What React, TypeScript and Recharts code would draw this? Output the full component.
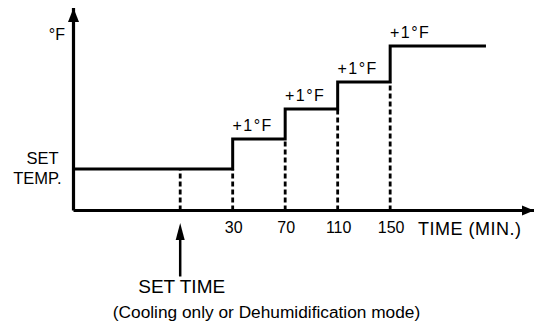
import React from 'react';
import { LineChart, Line, XAxis, YAxis, ReferenceLine, ReferenceDot } from 'recharts';

// time in minutes (set time sits one step before 30)
const minutes = [-91, 30, 70, 110, 150, 223];
// rise above set temperature, in "°F" steps
const tempRise = [0, 1, 2, 2.9, 4.1, 4.1];
const setTime = -10;
const tickValues = [-10, 30, 70, 110, 150];
const tickLabels = ['SET TIME', '30', '70', '110', '150'];
const stepLabel = '+1°F';
const xDomain = [-91.3, 259.6];
const yDomain = [-1.383, 5.367];

const data = minutes.map((m, i) => ({ time: m, rise: tempRise[i] }));

const FONT = '"Liberation Sans", Arial, Helvetica, sans-serif';

const TimeTick = (props: any) => {
  const { x, y, payload } = props;
  const i = tickValues.indexOf(payload.value);
  if (payload.value === setTime) {
    return (
      <g>
        <line x1={x} x2={x} y1={y + 66} y2={y + 26} stroke="#000" strokeWidth={2.5} />
        <polygon points={`${x},${y + 12.5} ${x - 4.5},${y + 29.5} ${x + 4.5},${y + 29.5}`} fill="#000" />
        <text x={x + 1.5} y={y + 82.5} textAnchor="middle" fontSize={19} fontFamily={FONT} fill="#000">
          {tickLabels[i]}
        </text>
      </g>
    );
  }
  return (
    <text x={x + 1} y={y + 22.5} textAnchor="middle" fontSize={16} fontFamily={FONT} fill="#000">
      {tickLabels[i]}
    </text>
  );
};

const TempTick = (props: any) => {
  const { x, y } = props;
  return (
    <g fontFamily={FONT} fontSize={16.5} fill="#000">
      <text x={x - 15} y={y - 5} textAnchor="end">SET</text>
      <text x={x - 12} y={y + 15} textAnchor="end">TEMP.</text>
    </g>
  );
};

const xArrow = (p: any) => (
  <polygon points={`${p.cx},${p.cy} ${p.cx - 12},${p.cy - 5} ${p.cx - 12},${p.cy + 5}`} fill="#000" />
);
const yArrow = (p: any) => (
  <polygon points={`${p.cx},${p.cy} ${p.cx - 5.5},${p.cy + 14} ${p.cx + 5.5},${p.cy + 14}`} fill="#000" />
);
const riseLabel = (p: any) => (
  <text x={p.cx + 20} y={p.cy - 8} textAnchor="middle" fontSize={16} letterSpacing={1.5} fontFamily={FONT} fill="#000">
    {stepLabel}
  </text>
);

// dashed guides: from the axis up to the level before each rise
const guides = [{ x: setTime, top: tempRise[0] }].concat(
  minutes.slice(1, 5).map((m, i) => ({ x: m, top: tempRise[i] }))
);

export default function App() {
  return (
    <div style={{ position: 'absolute', left: 0, top: 0, background: '#fff' }}>
      <LineChart
        width={535}
        height={330}
        data={data}
        margin={{ top: 8, right: 1, left: 72.5, bottom: 89.5 }}
      >
        <XAxis
          dataKey="time"
          type="number"
          domain={xDomain}
          ticks={tickValues}
          interval={0}
          tickLine={false}
          tickSize={0}
          tickMargin={0}
          height={30}
          axisLine={{ stroke: '#000', strokeWidth: 3.2 }}
          tick={<TimeTick />}
        />
        <YAxis
          type="number"
          domain={yDomain}
          ticks={[0]}
          interval={0}
          width={1}
          tickLine={false}
          tickSize={0}
          tickMargin={0}
          axisLine={{ stroke: '#000', strokeWidth: 3.2 }}
          tick={<TempTick />}
        />
        {guides.map((g) => (
          <ReferenceLine
            key={g.x}
            segment={[{ x: g.x, y: yDomain[0] }, { x: g.x, y: g.top }]}
            stroke="#000"
            strokeWidth={2.8}
            strokeDasharray="5 3"
          />
        ))}
        <Line
          type="stepAfter"
          dataKey="rise"
          stroke="#000"
          strokeWidth={3}
          dot={false}
          isAnimationActive={false}
        />
        {minutes.slice(1, 5).map((m, i) => (
          <ReferenceDot key={m} x={m} y={tempRise[i + 1]} ifOverflow="visible" shape={riseLabel} />
        ))}
        <ReferenceDot x={xDomain[1]} y={yDomain[0]} ifOverflow="visible" shape={xArrow} />
        <ReferenceDot x={xDomain[0]} y={yDomain[1]} ifOverflow="visible" shape={yArrow} />
        <text x={65} y={40} textAnchor="end" fontSize={16} fontFamily={FONT} fill="#000">°F</text>
        <text x={418} y={235} fontSize={18} letterSpacing={0.5} fontFamily={FONT} fill="#000">TIME (MIN.)</text>
        <text x={266.5} y={318} textAnchor="middle" fontSize={17.3} fontFamily={FONT} fill="#000">
          (Cooling only or Dehumidification mode)
        </text>
      </LineChart>
    </div>
  );
}
